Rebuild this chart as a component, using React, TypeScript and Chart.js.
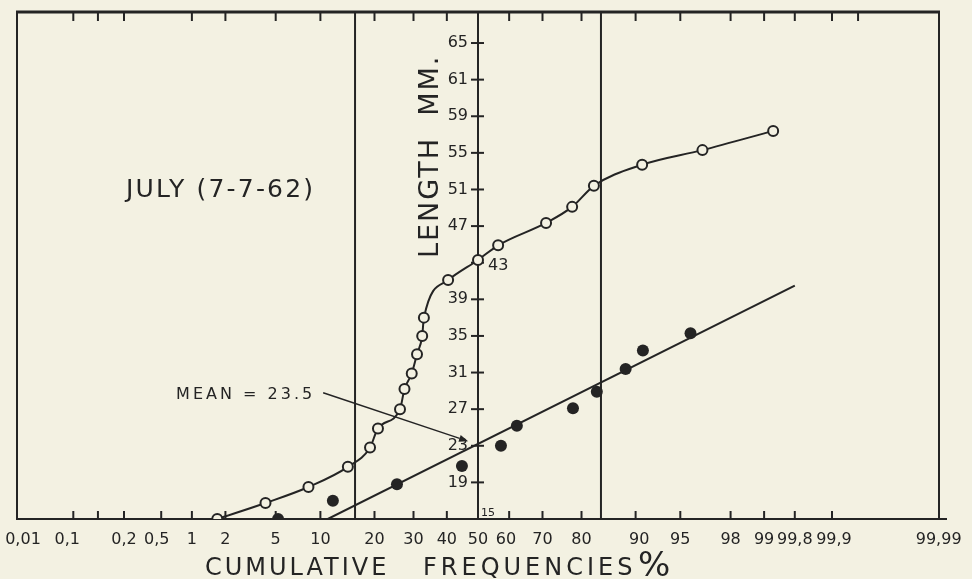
import React, { useEffect, useRef } from 'react';
import { Chart, LinearScale, registerables } from 'chart.js';

// ---------- colours ----------
const BG = '#f3f1e2';
const INK = '#242424';

// ---------- data (cumulative frequency %, length mm) ----------
const openPct = [1.7, 4.2, 8.4, 14.5, 19.0, 20.8, 26.3, 27.5, 29.5, 31.0, 32.5, 33.0, 40.4, 50.0, 56.5, 71.0, 77.8, 82.7, 90.9, 96.6, 99.18];
const openLen = [15.0, 16.75, 18.5, 20.7, 22.8, 24.9, 27.0, 29.2, 30.9, 33.0, 35.0, 37.0, 41.1, 43.3, 44.9, 47.35, 49.1, 51.4, 53.7, 55.3, 57.4];

const filledPct = [5.2, 11.9, 25.5, 44.8, 57.4, 62.4, 78.0, 83.3, 88.5, 91.0, 95.8];
const filledLen = [15.0, 17.0, 18.8, 20.8, 23.0, 25.2, 27.1, 28.9, 31.4, 33.4, 35.3];

const fitPct = [11.1, 99.5];
const fitLen = [15.0, 40.5];

const sigmaPct = [15.87, 84.13];
const axisPct = 50;

const meanArrowPct = [10.4, 46.8];
const meanArrowLen = [28.8, 23.5];
const meanText = 'MEAN = 23.5';

// ---------- axis ticks / labels ----------
const xBottomTicks = [0.05, 0.1, 0.2, 0.5, 1, 2, 5, 10, 20, 30, 40, 60, 70, 80, 90, 95, 98, 99, 99.5, 99.8];
const xTopTicks = [0.05, 0.1, 0.2, 1, 2, 5, 10, 20, 30, 40, 60, 70, 80, 90, 95, 98, 99, 99.5, 99.8, 99.9];
const xLabelAt = [0.0108, 0.042, 0.2, 0.45, 1, 2, 5, 10, 20, 30, 40, 50, 59, 70, 80, 90.5, 95, 98, 99, 99.5, 99.81, 99.991];
const xLabelText = ['0,01', '0,1', '0,2', '0,5', '1', '2', '5', '10', '20', '30', '40', '50', '60', '70', '80', '90', '95', '98', '99', '99,8', '99,9', '99,99'];

const yTickValues = [15, 19, 23, 27, 31, 35, 39, 43, 47, 51, 55, 59, 63, 67];
const yTickLabels = ['15', '19', '23', '27', '31', '35', '39', '43', '47', '51', '55', '59', '61', '65'];
const yRightLabels = ['43'];

const X_MIN = 0.0089;
const X_MAX = 99.9911;
const Y_MIN = 15;
const Y_MAX = 70.39;

// ---------- probability (probit) helpers ----------
function probit(pct: number): number {
  const p = pct / 100;
  const a = [-3.969683028665376e1, 2.209460984245205e2, -2.759285104469687e2, 1.38357751867269e2, -3.066479806614716e1, 2.506628277459239];
  const b = [-5.447609879822406e1, 1.615858368580409e2, -1.556989798598866e2, 6.680131188771972e1, -1.328068155288572e1];
  const c = [-7.784894002430293e-3, -3.223964580411365e-1, -2.400758277161838, -2.549732539343734, 4.374664141464968, 2.938163982698783];
  const d = [7.784695709041462e-3, 3.224671290700398e-1, 2.445134137142996, 3.754408661907416];
  const plow = 0.02425;
  const phigh = 1 - plow;
  if (p < plow) {
    const q = Math.sqrt(-2 * Math.log(p));
    return (((((c[0] * q + c[1]) * q + c[2]) * q + c[3]) * q + c[4]) * q + c[5]) / ((((d[0] * q + d[1]) * q + d[2]) * q + d[3]) * q + 1);
  }
  if (p <= phigh) {
    const q = p - 0.5;
    const r = q * q;
    return ((((((a[0] * r + a[1]) * r + a[2]) * r + a[3]) * r + a[4]) * r + a[5]) * q) / (((((b[0] * r + b[1]) * r + b[2]) * r + b[3]) * r + b[4]) * r + 1);
  }
  const q = Math.sqrt(-2 * Math.log(1 - p));
  return -(((((c[0] * q + c[1]) * q + c[2]) * q + c[3]) * q + c[4]) * q + c[5]) / ((((d[0] * q + d[1]) * q + d[2]) * q + d[3]) * q + 1);
}

function phi(z: number): number {
  const t = 1 / (1 + 0.2316419 * Math.abs(z));
  const dd = 0.3989423 * Math.exp((-z * z) / 2);
  const pr = dd * t * (0.3193815 + t * (-0.3565638 + t * (1.781478 + t * (-1.821256 + t * 1.330274))));
  return z > 0 ? 1 - pr : pr;
}

class ProbitScale extends LinearScale {
  static id = 'probit';
  configure() {
    super.configure();
    (this as any)._zmin = probit(this.min);
    (this as any)._zmax = probit(this.max);
  }
  buildTicks() {
    return xBottomTicks.map((v) => ({ value: v }));
  }
  getPixelForValue(value: number) {
    if (value === null || value === undefined || isNaN(value)) return NaN;
    const zmin = (this as any)._zmin;
    const zmax = (this as any)._zmax;
    return this.getPixelForDecimal((probit(value) - zmin) / (zmax - zmin));
  }
  getValueForPixel(pixel: number) {
    const zmin = (this as any)._zmin;
    const zmax = (this as any)._zmax;
    return 100 * phi(zmin + this.getDecimalForPixel(pixel) * (zmax - zmin));
  }
}

Chart.register(...registerables, ProbitScale as any);

const FONT = "'DejaVu Sans', 'Noto Sans', sans-serif";

function seg(ctx: CanvasRenderingContext2D, x1: number, y1: number, x2: number, y2: number) {
  ctx.beginPath();
  ctx.moveTo(x1, y1);
  ctx.lineTo(x2, y2);
  ctx.stroke();
}

const decorPlugin = {
  id: 'decor',
  beforeDraw(chart: any) {
    const ctx = chart.ctx as CanvasRenderingContext2D;
    ctx.save();
    ctx.fillStyle = BG;
    ctx.fillRect(0, 0, chart.width, chart.height);
    ctx.restore();
  },
  beforeDatasetsDraw(chart: any) {
    const ctx = chart.ctx as CanvasRenderingContext2D;
    const ca = chart.chartArea;
    const x = chart.scales.x;
    const y = chart.scales.y;
    ctx.save();
    ctx.strokeStyle = INK;
    ctx.fillStyle = INK;
    ctx.lineCap = 'butt';

    // frame
    ctx.lineWidth = 2;
    seg(ctx, ca.left, ca.top, ca.left, ca.bottom);
    seg(ctx, ca.right, ca.top, ca.right, ca.bottom);
    seg(ctx, ca.left - 1, ca.bottom, ca.right + 8, ca.bottom);
    ctx.lineWidth = 3;
    seg(ctx, ca.left - 1, ca.top, ca.right + 1, ca.top);

    // sigma lines and central axis
    ctx.lineWidth = 2;
    for (const s of sigmaPct) {
      const px = x.getPixelForValue(s);
      seg(ctx, px, ca.top, px, ca.bottom);
    }
    const ax = x.getPixelForValue(axisPct);
    seg(ctx, ax, ca.top, ax, ca.bottom);

    // x ticks (inward)
    for (const v of xBottomTicks) {
      const px = x.getPixelForValue(v);
      seg(ctx, px, ca.bottom, px, ca.bottom - 8);
    }
    for (const v of xTopTicks) {
      const px = x.getPixelForValue(v);
      seg(ctx, px, ca.top, px, ca.top + 9);
    }

    // x labels
    ctx.font = '16px ' + FONT;
    ctx.textAlign = 'center';
    ctx.textBaseline = 'alphabetic';
    xLabelText.forEach((t, i) => {
      ctx.fillText(t, x.getPixelForValue(xLabelAt[i]), ca.bottom + 25);
    });

    // y ticks and labels
    ctx.lineWidth = 2;
    yTickValues.forEach((v, i) => {
      const py = y.getPixelForValue(v);
      const label = yTickLabels[i];
      if (i === 0) {
        ctx.font = '11px ' + FONT;
        ctx.textAlign = 'left';
        ctx.textBaseline = 'alphabetic';
        ctx.fillText(label, ax + 3, ca.bottom - 3);
        return;
      }
      seg(ctx, ax - 7, py, ax + 6, py);
      ctx.font = '16px ' + FONT;
      ctx.textBaseline = 'middle';
      if (yRightLabels.includes(label)) {
        ctx.textAlign = 'left';
        ctx.fillText(label, ax + 10, py + 3);
      } else {
        ctx.textAlign = 'right';
        ctx.fillText(label, ax - 10, py);
      }
    });

    // axis titles
    ctx.textBaseline = 'alphabetic';
    ctx.textAlign = 'left';
    (ctx as any).letterSpacing = '2px';
    ctx.font = '27px ' + FONT;
    ctx.save();
    ctx.translate(ax - 40, 258);
    ctx.rotate(-Math.PI / 2);
    ctx.fillText('LENGTH  MM.', 0, 0);
    ctx.restore();

    (ctx as any).letterSpacing = '3px';
    ctx.font = '24px ' + FONT;
    ctx.fillText('CUMULATIVE', 205, 575);
    (ctx as any).letterSpacing = '4px';
    ctx.fillText('FREQUENCIES', 423, 575);
    (ctx as any).letterSpacing = '0px';
    ctx.font = '34px ' + FONT;
    ctx.fillText('%', 638, 576);

    // chart label
    (ctx as any).letterSpacing = '2.2px';
    ctx.font = '25px ' + FONT;
    ctx.fillText('JULY (7-7-62)', 126, 197);

    // mean arrow
    const sx = x.getPixelForValue(meanArrowPct[0]);
    const sy = y.getPixelForValue(meanArrowLen[0]);
    const ex = x.getPixelForValue(meanArrowPct[1]);
    const ey = y.getPixelForValue(meanArrowLen[1]);
    ctx.lineWidth = 1.5;
    const ang = Math.atan2(ey - sy, ex - sx);
    const hx = ex - 9 * Math.cos(ang);
    const hy = ey - 9 * Math.sin(ang);
    seg(ctx, sx, sy, hx, hy);
    ctx.beginPath();
    ctx.moveTo(ex, ey);
    ctx.lineTo(hx + 3.5 * Math.sin(ang), hy - 3.5 * Math.cos(ang));
    ctx.lineTo(hx - 3.5 * Math.sin(ang), hy + 3.5 * Math.cos(ang));
    ctx.closePath();
    ctx.fill();
    (ctx as any).letterSpacing = '3px';
    ctx.font = '16px ' + FONT;
    ctx.textAlign = 'right';
    ctx.fillText(meanText, sx - 8, sy + 6);

    ctx.restore();
  },
};

export default function App() {
  const ref = useRef<HTMLCanvasElement>(null);
  useEffect(() => {
    document.body.style.margin = '0';
    document.body.style.background = BG;
    const chart = new Chart(ref.current as HTMLCanvasElement, {
      type: 'line',
      data: {
        datasets: [
          {
            label: 'fit',
            data: fitPct.map((p, i) => ({ x: p, y: fitLen[i] })),
            borderColor: INK,
            borderWidth: 2,
            pointRadius: 0,
            tension: 0,
          },
          {
            label: 'filled',
            data: filledPct.map((p, i) => ({ x: p, y: filledLen[i] })),
            showLine: false,
            pointRadius: 6,
            pointBorderWidth: 0,
            pointBackgroundColor: INK,
            borderColor: INK,
          },
          {
            label: 'open',
            data: openPct.map((p, i) => ({ x: p, y: openLen[i] })),
            borderColor: INK,
            borderWidth: 2,
            cubicInterpolationMode: 'monotone',
            pointRadius: 5,
            pointBorderWidth: 2,
            pointBorderColor: INK,
            pointBackgroundColor: BG,
          },
        ],
      } as any,
      options: {
        responsive: false,
        animation: false,
        devicePixelRatio: 1,
        events: [],
        layout: { padding: { left: 17, right: 33, top: 12, bottom: 60 } },
        plugins: { legend: { display: false }, tooltip: { enabled: false } },
        scales: {
          x: { type: 'probit' as any, min: X_MIN, max: X_MAX, display: false },
          y: { type: 'linear', min: Y_MIN, max: Y_MAX, display: false, bounds: 'data' },
        },
      } as any,
      plugins: [decorPlugin],
    });
    return () => chart.destroy();
  }, []);
  return (
    <div style={{ position: 'fixed', left: 0, top: 0, width: 972, height: 579 }}>
      <canvas ref={ref} width={972} height={579} style={{ display: 'block', width: 972, height: 579 }} />
    </div>
  );
}
